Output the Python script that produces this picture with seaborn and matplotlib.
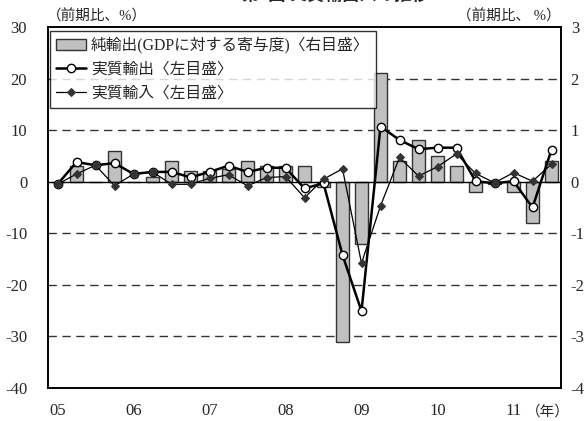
import numpy as np
import matplotlib
matplotlib.use("Agg")
import matplotlib.pyplot as plt
import seaborn as sns

# ---- data ----
years = ["05", "06", "07", "08", "09", "10", "11"]
quarters = [f"20{y}Q{q}" for y in years for q in range(1, 5)][:27]
net_exports = [0.0, 0.3, 0.0, 0.6, 0.0, 0.1, 0.4, 0.2, 0.2, 0.25,
               0.4, 0.3, 0.3, 0.3, -0.1, -3.1, -1.2, 2.1, 0.4, 0.8,
               0.5, 0.3, -0.2, -0.05, -0.2, -0.8, 0.4]
real_exports = [-0.5, 3.8, 3.2, 3.6, 1.5, 1.9, 1.9, 0.85, 1.9, 3.1,
                1.9, 2.7, 2.7, -1.3, -0.3, -14.2, -25.1, 10.7, 8.1, 6.3,
                6.6, 6.6, 0.1, -0.3, 0.1, -5.0, 6.2]
real_imports = [-0.5, 1.5, 3.2, -0.8, 1.5, 1.9, -0.5, -0.5, 0.65, 1.36,
                -0.8, 0.8, 1.0, -3.1, 0.5, 2.5, -15.8, -4.7, 4.7, 1.1,
                2.9, 5.4, 1.6, -0.2, 1.75, 0.1, 3.4]
left_ticks = [30, 20, 10, 0, -10, -20, -30, -40]
right_ticks = [3, 2, 1, 0, -1, -2, -3, -4]
label_net = "純輸出(GDPに対する寄与度)〈右目盛〉"
label_exp = "実質輸出〈左目盛〉"
label_imp = "実質輸入〈左目盛〉"
title = "第4図 実質輸出入の推移"
unit_left = "（前期比、%）"
unit_right = "（前期比、 %）"
year_unit = "（年）"

sns.set_theme(style="white")
plt.rcParams["font.family"] = ["Liberation Serif", "Noto Sans CJK JP", "DejaVu Sans"]

fig = plt.figure(figsize=(5.87, 4.21), dpi=100)
ax2 = fig.add_axes([48/587, 33/421, 513/587, 361/421])  # right axis (bars)
ax = ax2.twinx()
ax.yaxis.tick_left()
ax.yaxis.set_label_position("left")
ax2.yaxis.tick_right()
ax2.yaxis.set_label_position("right")

x = np.arange(len(quarters))

# grid (on bar axis, below bars)
for v in right_ticks:
    if v not in (3, 0, -4):
        ax2.axhline(v, color="#333333", lw=1.0, ls=(0, (6, 4)), zorder=0)

sns.barplot(x=x, y=net_exports, ax=ax2, color="#c0c0c0", edgecolor="#333333",
            linewidth=1.0, width=0.67, saturation=1, zorder=2)
ax2.axhline(0, color="black", lw=1.0, zorder=3)

sns.lineplot(x=x, y=real_exports, ax=ax, color="black", lw=1.8,
             marker="o", markersize=6, markerfacecolor="white",
             markeredgecolor="black", markeredgewidth=1.0, zorder=4)
sns.lineplot(x=x, y=real_imports, ax=ax, color="black", lw=0.9,
             marker="D", markersize=4.5, markerfacecolor="#333333",
             markeredgecolor="#333333", zorder=5)

ax.set_zorder(ax2.get_zorder() + 1)
ax.patch.set_visible(False)

ax.set_xlim(-0.5, len(quarters) - 0.5)
ax.set_ylim(-40, 30)
ax2.set_ylim(-4, 3)
ax.set_yticks(left_ticks)
ax.set_yticklabels([str(t) for t in left_ticks])
ax2.set_yticks(right_ticks)
ax2.set_yticklabels([str(t) for t in right_ticks])
ax2.set_xticks(x[::4])
ax2.set_xticklabels(years)
ax.set_xlabel("")
ax2.set_xlabel("")
ax.tick_params(axis="y", length=0, pad=15, labelsize=12)
ax2.tick_params(axis="y", length=0, pad=7, labelsize=12)
ax2.tick_params(axis="x", length=0, pad=11, labelsize=12)

for a in (ax, ax2):
    for s in a.spines.values():
        s.set_color("black")
        s.set_linewidth(1.2)

# legend
bar_handle = ax2.patches[0]
handles = [bar_handle, ax.lines[0], ax.lines[1]]
leg = ax.legend(handles, [label_net, label_exp, label_imp],
                loc="upper left", bbox_to_anchor=(0.004, 0.99),
                borderaxespad=0, frameon=True, fancybox=False,
                edgecolor="black", fontsize=11.3, handlelength=1.9,
                handletextpad=0.3, labelspacing=0.5, borderpad=0.4)
leg.get_frame().set_linewidth(1.0)

# texts
fig.text(335/587, 1 - (-5)/421, title, ha="center", va="center",
         fontsize=12.5, fontweight="bold")
fig.text(47/587, 1 - 16/421, unit_left, ha="left", va="center", fontsize=10.5)
fig.text(561/587, 1 - 16/421, unit_right, ha="right", va="center", fontsize=10.5)
ax2.text(25.8, -0.065, year_unit, transform=ax2.get_xaxis_transform(),
         ha="center", va="center", fontsize=10.5)

fig.savefig("out.png", dpi=100)
